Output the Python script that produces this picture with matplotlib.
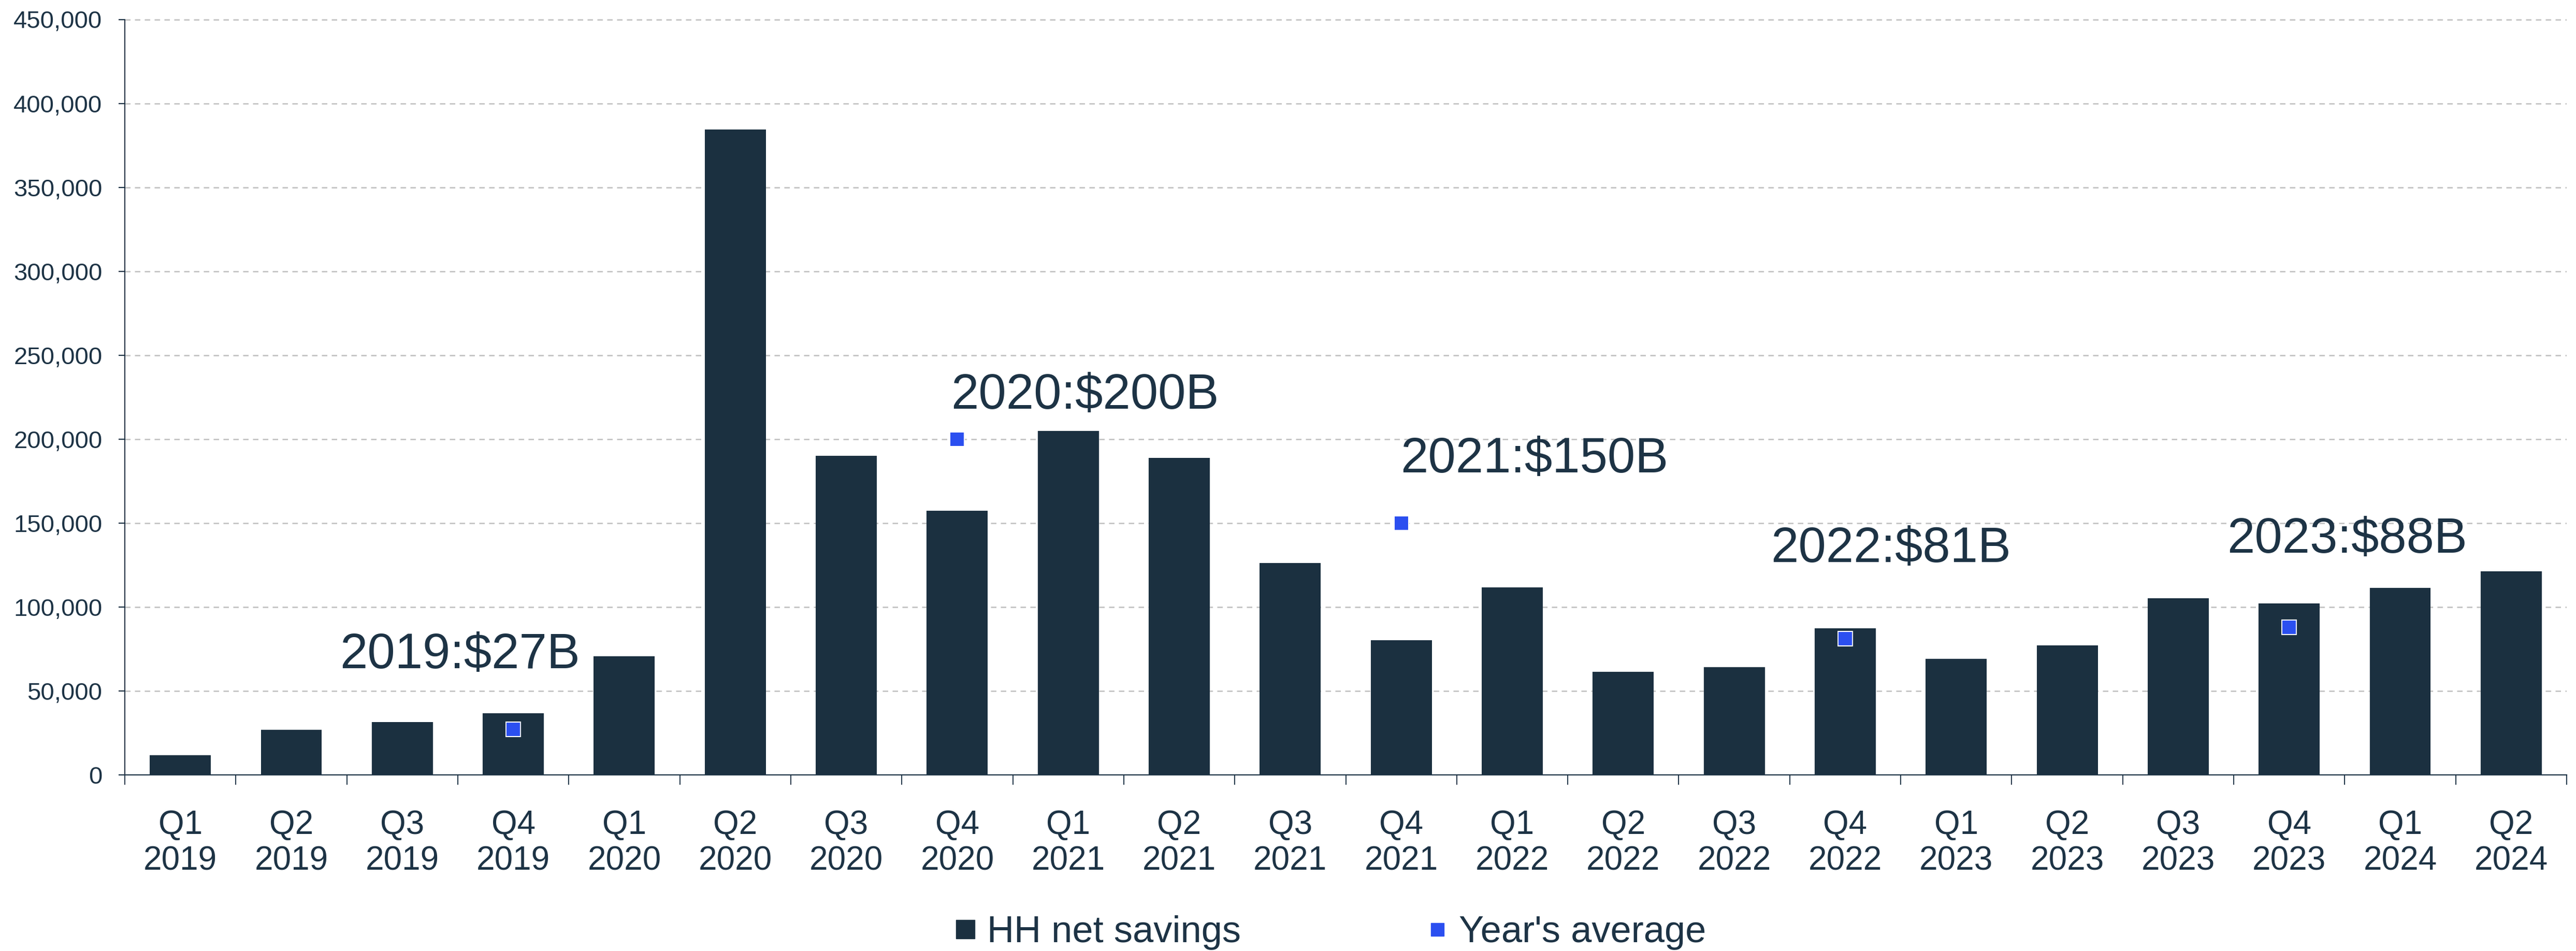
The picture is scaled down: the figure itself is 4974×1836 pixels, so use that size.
import matplotlib
matplotlib.use("Agg")
import matplotlib.pyplot as plt
from matplotlib.ticker import FixedLocator, FuncFormatter
from matplotlib.lines import Line2D

# ---------------- data ----------------
quarters = ["Q1", "Q2", "Q3", "Q4"] * 5 + ["Q1", "Q2"]
years = ["2019"] * 4 + ["2020"] * 4 + ["2021"] * 4 + ["2022"] * 4 + ["2023"] * 4 + ["2024"] * 2
hh_net_savings = [11800, 26900, 31600, 36700, 70700, 384400, 190100, 157300,
                  204800, 188700, 126200, 80300, 111600, 61500, 64100, 87300,
                  69200, 77200, 105200, 102100, 111300, 121200]
avg_years = ["2019", "2020", "2021", "2022", "2023"]
avg_values = [27000, 200000, 150000, 81000, 88000]
avg_labels = ["2019:$27B", "2020:$200B", "2021:$150B", "2022:$81B", "2023:$88B"]
y_ticks = [0, 50000, 100000, 150000, 200000, 250000, 300000, 350000, 400000, 450000]

# label layout (x in category units, y baseline in axis units)
label_pos = [(2.52, 63600), (8.15, 218200), (12.2, 180200), (15.41, 126800), (19.52, 132500)]

# ---------------- style ----------------
plt.rcParams['font.family'] = ['Liberation Sans', 'DejaVu Sans']
BAR = '#1b3040'
TXT = '#1d3345'
BLUE = '#2b4ff0'

W, H = 4974, 1836
fig = plt.figure(figsize=(W / 100, H / 100), dpi=100)
ax = fig.add_axes([241 / W, 1 - 1496 / H, (4956 - 241) / W, (1496 - 37.5) / H])

cats = [f"{q}\n{y}" for q, y in zip(quarters, years)]
x = list(range(len(cats)))
ax.bar(x, hh_net_savings, width=0.55, color=BAR, zorder=2)

avg_x = [cats.index(f"Q4\n{y}") for y in avg_years]
ax.plot(avg_x, avg_values, linestyle='none', marker='s', markersize=20,
        markerfacecolor=BLUE, markeredgecolor='white', markeredgewidth=1.5, zorder=3)

for (lx, ly), s in zip(label_pos, avg_labels):
    ax.text(lx, ly, s, ha='center', va='baseline', fontsize=69, color=TXT,
            parse_math=False, zorder=4)

ax.set_xlim(-0.5, len(cats) - 0.5)
ax.set_ylim(0, 450000)

ax.set_xticks(x)
ax.set_xticklabels(cats, fontsize=46, color=TXT, linespacing=1.2)
ax.xaxis.set_minor_locator(FixedLocator([i - 0.5 for i in range(len(cats) + 1)]))
ax.tick_params(axis='x', which='major', length=0, pad=48)
ax.tick_params(axis='x', which='minor', length=13.7, width=1.4, color=TXT)

ax.set_yticks(y_ticks)
ax.yaxis.set_major_formatter(FuncFormatter(lambda v, p: f"{int(v):,}"))
ax.tick_params(axis='y', which='major', length=8.3, width=1.6, color=TXT,
               labelsize=34, labelcolor=TXT, pad=23)

ax.yaxis.grid(True, linestyle=(0, (4.2, 3.4)), color='#bfbfbf', linewidth=1.8, zorder=0)
ax.set_axisbelow(True)
for s in ['top', 'right']:
    ax.spines[s].set_visible(False)
ax.spines['left'].set_color(TXT)
ax.spines['left'].set_linewidth(1.5)
ax.spines['bottom'].set_color(TXT)
ax.spines['bottom'].set_linewidth(1.6)
ax.spines['bottom'].set_zorder(5)

handles = [
    Line2D([], [], linestyle='none', marker='s', markersize=26.5,
           markerfacecolor=BAR, markeredgecolor=BAR),
    Line2D([], [], linestyle='none', marker='s', markersize=18,
           markerfacecolor=BLUE, markeredgecolor=BLUE),
]
leg = fig.legend(handles, ["HH net savings", "Year's average"], ncol=2,
                 loc='center', bbox_to_anchor=(2568 / W, 1 - 1801 / H),
                 frameon=False, fontsize=52, handlelength=0.6, handletextpad=0.28,
                 columnspacing=4.95, borderpad=0, borderaxespad=0)
for t in leg.get_texts():
    t.set_color(TXT)

fig.savefig("out.png", dpi=100)
